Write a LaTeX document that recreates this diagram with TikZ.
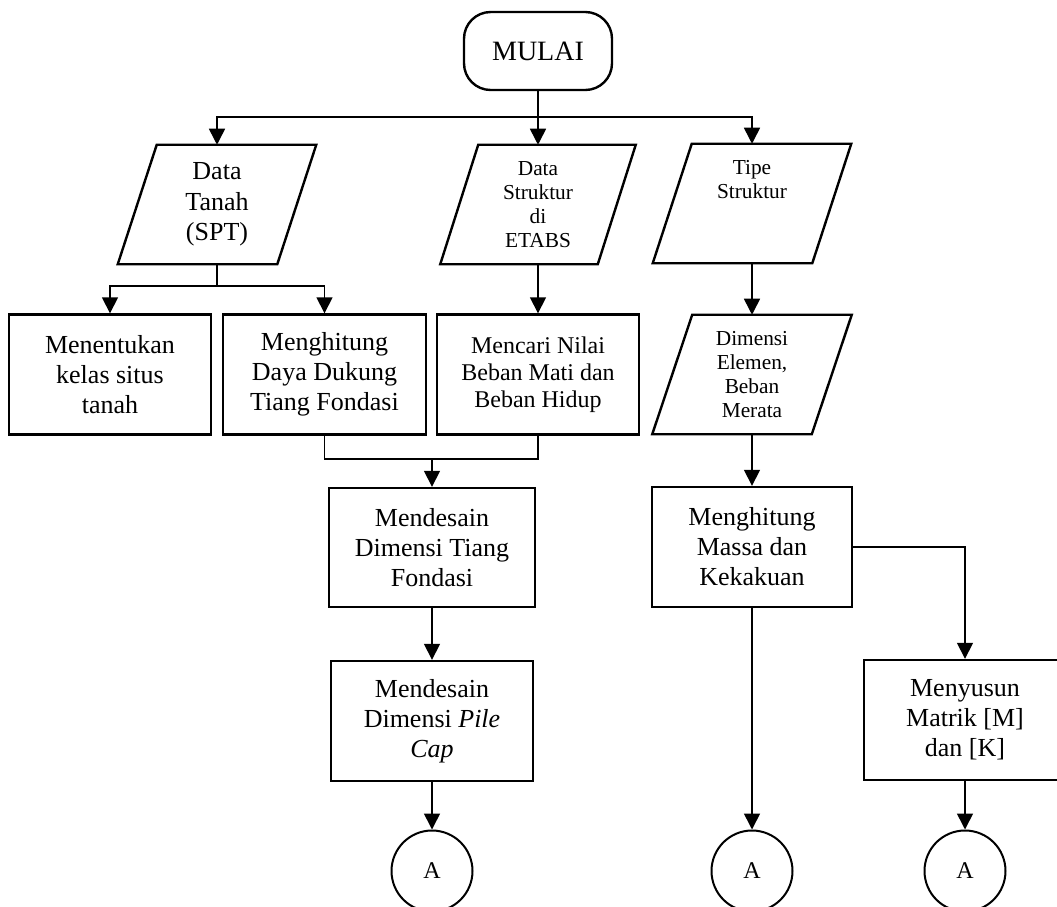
\documentclass[tikz,border=0pt]{standalone}
\usepackage{fontspec}
\setmainfont{Liberation Serif}
\usetikzlibrary{arrows.meta}
\begin{document}
\begin{tikzpicture}[x=0.75pt,y=-0.75pt,
  boxline/.style={line width=1.8pt},
  procbox/.style={draw, boxline, minimum width=#1*0.75pt, minimum height=120*0.75pt, inner sep=0pt, align=center, font=\fontsize{19.5}{22.5}\selectfont},
  paratext/.style={minimum width=159*0.75pt, minimum height=119*0.75pt, inner sep=0pt, align=center},
  bigtxt/.style={font=\fontsize{19.5}{23}\selectfont},
  smalltxt/.style={font=\fontsize{16}{18}\selectfont},
  conn/.style={draw, circle, line width=1.5pt, minimum size=81*0.75pt, inner sep=0pt, font=\fontsize{18}{20}\selectfont},
  arr/.style={line width=1.2pt, -{Triangle[length=12pt,width=12pt]}},
  ln/.style={line width=1.2pt}
]
\path[use as bounding box, clip] (0,0) rectangle (1057,907);

% start
\node[draw, boxline, rounded corners=20pt, minimum width=148*0.75pt, minimum height=78*0.75pt, font=\fontsize{21}{24}\selectfont] (mulai) at (538,51) {MULAI};

% inputs
\node[paratext, bigtxt] (dt) at (217,204.5) {Data\\Tanah\\(SPT)};
\node[paratext, smalltxt, minimum width=157*0.75pt] (ds) at (538,204.5) {Data\\Struktur\\di\\ETABS};
\node[paratext, smalltxt] (ts) at (752,203.5) {Tipe\\Struktur\\~\\~};
\node[paratext, smalltxt] (dm) at (752,374.5) {Dimensi\\Elemen,\\Beban\\Merata};

\foreach \n/\o in {dt/19.5, ds/19, ts/19.5, dm/20} {
  \draw[boxline] ([xshift=\o*0.75pt]\n.north west) -- ([xshift=\o*0.75pt]\n.north east)
    -- ([xshift=-\o*0.75pt]\n.south east) -- ([xshift=-\o*0.75pt]\n.south west) -- cycle;
}

% process boxes
\node[procbox=202] (mk) at (110,374.5) {Menentukan\\kelas situs\\tanah};
\node[procbox=203] (md) at (324.5,374.5) {Menghitung\\Daya Dukung\\Tiang Fondasi};
\node[procbox=202, font=\fontsize{18}{20.25}\selectfont] (mn) at (538,374.5) {Mencari Nilai\\Beban Mati dan\\Beban Hidup};
\node[procbox=206, minimum height=119*0.75pt] (mt) at (432,547.5) {Mendesain\\Dimensi Tiang\\Fondasi};
\node[procbox=202] (mp) at (432,721) {Mendesain\\Dimensi \textit{Pile}\\\textit{Cap}};
\node[procbox=200] (mm) at (752,547) {Menghitung\\Massa dan\\Kekakuan};
\node[procbox=202] (ms) at (965,720) {Menyusun\\Matrik [M]\\dan [K]};

% connectors (off-page)
\node[conn] (c1) at (432,871) {A};
\node[conn] (c2) at (752,871) {A};
\node[conn] (c3) at (965,871) {A};

% junctions
\coordinate (j1) at (538,117);
\coordinate (j2) at (217,286);
\coordinate (j3) at (324.5,459);
\coordinate (j4) at (432,459);

% edges
\draw[ln] (mulai.south) -- (j1);
\draw[arr] (j1) -| (dt.north);
\draw[arr] (j1) -- (ds.north);
\draw[arr] (j1) -| (ts.north);

\draw[ln] (dt.south) -- (j2);
\draw[arr] (j2) -| (mk.north);
\draw[arr] (j2) -| (md.north);

\draw[arr] (ds.south) -- (mn.north);
\draw[arr] (ts.south) -- (dm.north);
\draw[arr] (dm.south) -- (mm.north);

\draw[ln] (md.south) -- (j3) -- (j3 -| mn.south) -- (mn.south);
\draw[arr] (j4) -- (mt.north);
\draw[arr] (mt.south) -- (mp.north);
\draw[arr] (mp.south) -- (c1.north);

\draw[arr] (mm.east) -| (ms.north);
\draw[arr] (mm.south) -- (c2.north);
\draw[arr] (ms.south) -- (c3.north);
\end{tikzpicture}
\end{document}
